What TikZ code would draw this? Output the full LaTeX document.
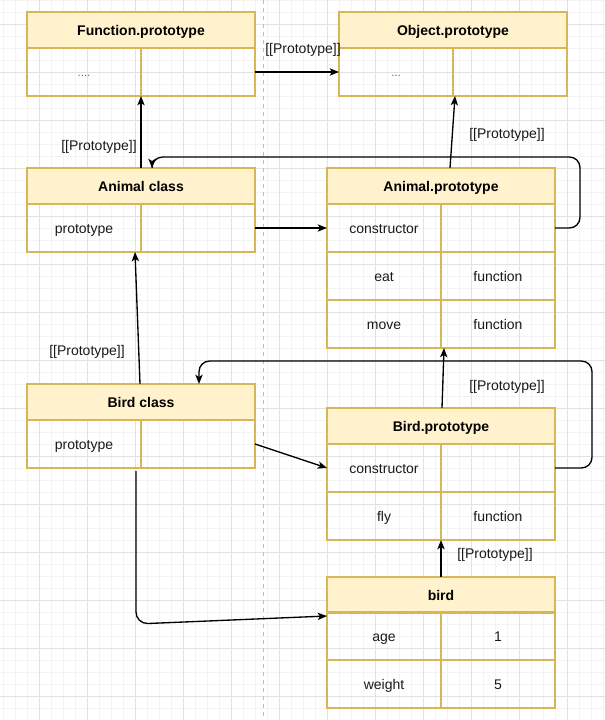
\documentclass[tikz,border=0pt]{standalone}
\usepackage{fontspec}
\setmainfont{Liberation Sans}
\usetikzlibrary{arrows.meta,calc}
\definecolor{hfill}{HTML}{FFF2CC}
\definecolor{bord}{HTML}{D6B656}
\definecolor{gmin}{HTML}{F3F3F3}
\definecolor{gmaj}{HTML}{E2E2E2}
\definecolor{dashc}{HTML}{BDBDBD}
\definecolor{txt}{HTML}{1A1A1A}
\tikzset{
  hdr/.style={draw=bord, line width=0.9pt, fill=hfill, minimum width=171pt, minimum height=27pt,
    anchor=north west, inner sep=0pt, outer sep=0pt, text height=0.95em, text depth=0.08em,
    font=\fontsize{10.5}{12}\selectfont\bfseries, text=black},
  cell/.style={draw=bord, line width=0.9pt, minimum width=85.5pt, minimum height=36pt,
    anchor=north west, inner sep=0pt, outer sep=0pt, text height=0.95em, text depth=0.08em,
    font=\fontsize{10.5}{12}\selectfont, text=txt},
  lbl/.style={inner sep=0pt, text height=0.95em, text depth=0.08em, font=\fontsize{10.5}{12}\selectfont, text=txt},
  dots/.style={inner sep=0pt, font=\fontsize{8.5}{10}\selectfont, text=black!60},
  arr/.style={draw=black, line width=1pt, -{Stealth[length=7pt,width=5.5pt,inset=1.8pt]}},
  minorg/.style={draw=gmin, line width=0.6pt},
  majorg/.style={draw=gmaj, line width=0.6pt},
}
\begin{document}
\begin{tikzpicture}[x=0.75pt,y=-0.75pt]
\useasboundingbox (0,0) rectangle (605,720);
\fill[white] (0,0) rectangle (605,720);
% grid
\foreach \x in {3,15,...,603} \draw[minorg] (\x,0) -- (\x,720);
\foreach \y in {0,12,...,720} \draw[minorg] (0,\y) -- (605,\y);
\foreach \x in {39,87,...,603} \draw[majorg] (\x,0) -- (\x,720);
\foreach \y in {24,72,...,720} \draw[majorg] (0,\y) -- (605,\y);
\draw[dashc, line width=0.75pt, dash pattern=on 3pt off 3pt] (263,0) -- (263,720);

% Function.prototype
\node[hdr] (fph) at (27,12) {Function.prototype};
\node[cell] (fpl) at (27,48) {};
\node[cell] (fpr) at (141,48) {};
\node[dots] (fpd) at (84,76) {....};

% Object.prototype
\node[hdr] (oph) at (339,12) {Object.prototype};
\node[cell] (opl) at (339,48) {};
\node[cell] (opr) at (453,48) {};
\node[dots] (opd) at (396,76) {...};

% Animal class
\node[hdr] (ach) at (27,168) {Animal class};
\node[cell] (acl) at (27,204) {prototype};
\node[cell] (acr) at (141,204) {};

% Animal.prototype
\node[hdr] (aph) at (327,168) {Animal.prototype};
\node[cell] (apl1) at (327,204) {constructor};
\node[cell] (apr1) at (441,204) {};
\node[cell] (apl2) at (327,252) {eat};
\node[cell] (apr2) at (441,252) {function};
\node[cell] (apl3) at (327,300) {move};
\node[cell] (apr3) at (441,300) {function};

% Bird class
\node[hdr] (bch) at (27,384) {Bird class};
\node[cell] (bcl) at (27,420) {prototype};
\node[cell] (bcr) at (141,420) {};

% Bird.prototype
\node[hdr] (bph) at (327,408) {Bird.prototype};
\node[cell] (bpl1) at (327,444) {constructor};
\node[cell] (bpr1) at (441,444) {};
\node[cell] (bpl2) at (327,492) {fly};
\node[cell] (bpr2) at (441,492) {function};

% bird
\node[hdr] (bdh) at (327,577) {bird};
\node[cell] (bdl1) at (327,612) {age};
\node[cell] (bdr1) at (441,612) {1};
\node[cell] (bdl2) at (327,660) {weight};
\node[cell] (bdr2) at (441,660) {5};

% labels
\node[lbl] (l1) at (303,48) {[[Prototype]]};
\node[lbl] (l2) at (99,145) {[[Prototype]]};
\node[lbl] (l3) at (507,133) {[[Prototype]]};
\node[lbl] (l4) at (87,350) {[[Prototype]]};
\node[lbl] (l5) at (507,385) {[[Prototype]]};
\node[lbl] (l6) at (495,553) {[[Prototype]]};

% connectors
\draw[arr] (fpr.east) -- (opl.west);
\draw[arr] (ach.north) -- (fpl.south east);
\draw[arr] ($(aph.north)+(9,0)$) -- ($(opl.south east)+(2,0)$);
\draw[arr] (acr.east) -- (apl1.west);
\coordinate (ac1) at (580,157);
\draw[arr, rounded corners=8] (apr1.east) -| (ac1) -| ($(ach.north)+(11,0)$);
\draw[arr] ($(bch.north)+(-1,0)$) -- ($(acl.south east)+(-6,0)$);
\draw[arr] (bcr.east) -- (bpl1.west);
\draw[arr] ($(bph.north)+(1,0)$) -- ($(apr3.south west)+(3,0)$);
\coordinate (bc1) at (592,361);
\draw[arr, rounded corners=8] (bpr1.east) -| (bc1) -| ($(bch.north)+(58,0)$);
\draw[arr] (bdh.north) -- (bpr2.south west);
\coordinate (bstart) at (136,471);
\coordinate (bcorner) at (136,624);
\draw[arr, rounded corners=9] (bstart) -- (bcorner) -- ($(bdh.south west)+(0,3)$);
\end{tikzpicture}
\end{document}
